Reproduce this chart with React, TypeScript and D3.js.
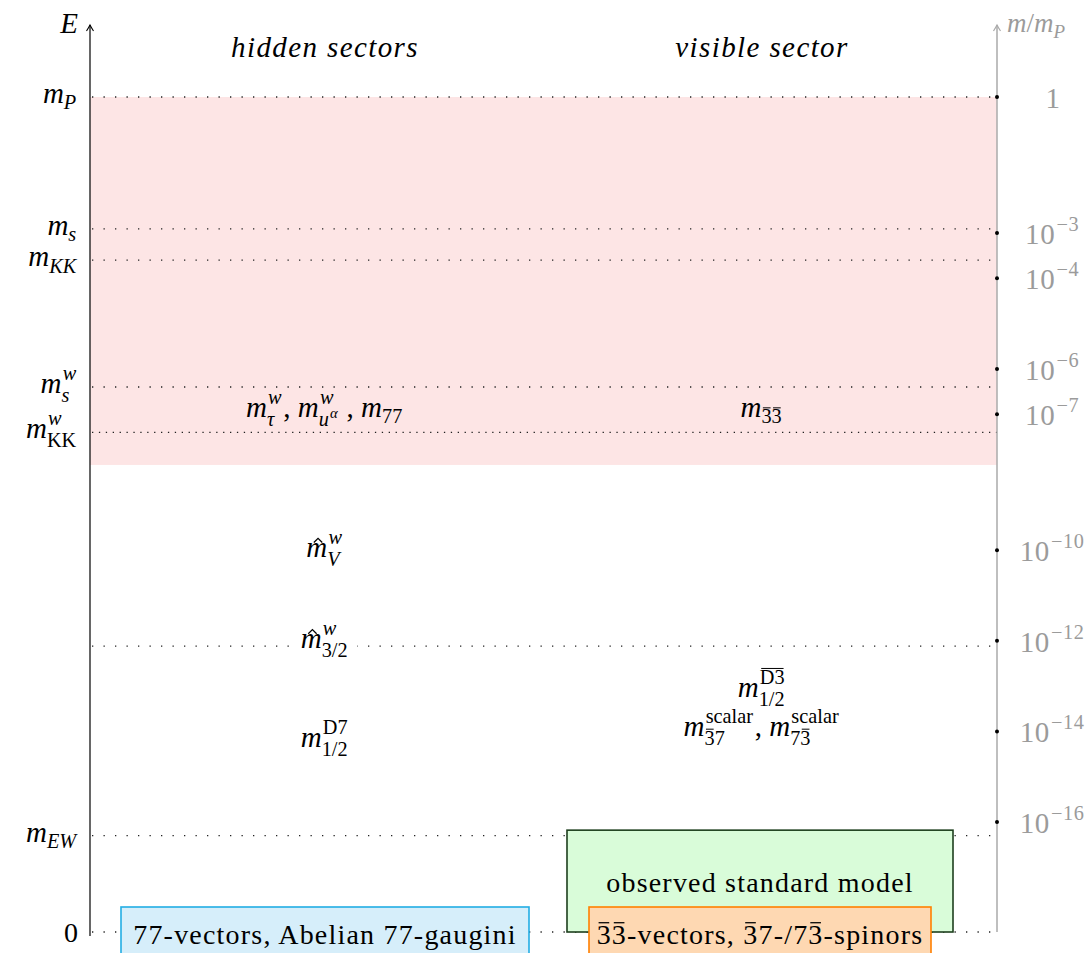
import React, { useEffect, useRef } from "react";
import * as d3 from "d3";

type Piece = { t: string; i?: boolean; bar?: boolean; sup?: string };
type Atom = { b: string; i?: boolean; bar?: boolean; hat?: boolean; sup?: Piece[]; sub?: Piece[] };

const W = 1091;
const H = 953;

// ratio axis (right): exponents of m/m_P with a tick
const ratioExponents = [0, -3, -4, -6, -7, -10, -12, -14, -16];

// energy levels (left axis), in decades below m_P
const levelExponents = [0, -2.91, -3.6, -6.4, -7.4, -16.3];
const levelLabels: Atom[][] = [
	[{ b: "m", sub: [{ t: "P", i: true }] }],
	[{ b: "m", sub: [{ t: "s", i: true }] }],
	[{ b: "m", sub: [{ t: "KK", i: true }] }],
	[{ b: "m", sup: [{ t: "w", i: true }], sub: [{ t: "s", i: true }] }],
	[{ b: "m", sup: [{ t: "w", i: true }], sub: [{ t: "KK" }] }],
	[{ b: "m", sub: [{ t: "EW", i: true }] }],
];
const levelDash = ["1.3 10.2", "1.3 10.2", "1.3 10.2", "1.3 10.2", "1.3 5.6", "1.3 10.2"];

// gravitino level, labelled inside the hidden column
const gravitinoExponent = -12.12;

// the shaded band (string scale region)
const bandExponents = [0, -8.12];

// masses in the hidden sectors column (baseline exponents)
const hiddenExponents = [-7.06, -10.15, -14.35];
const hiddenLabels: Atom[][] = [
	[
		{ b: "m", sup: [{ t: "w", i: true }], sub: [{ t: "τ", i: true }] },
		{ b: ", ", i: false },
		{ b: "m", sup: [{ t: "w", i: true }], sub: [{ t: "u", i: true, sup: "α" }] },
		{ b: " , ", i: false },
		{ b: "m", sub: [{ t: "77" }] },
	],
	[{ b: "m", hat: true, sup: [{ t: "w", i: true }], sub: [{ t: "V", i: true }] }],
	[{ b: "m", sup: [{ t: "D7" }], sub: [{ t: "1/2" }] }],
];

// masses in the visible sector column
const visibleExponents = [-7.06, -13.24, -14.1];
const visibleLabels: Atom[][] = [
	[{ b: "m", sub: [{ t: "3", bar: true }, { t: "3", bar: true }] }],
	[{ b: "m", sup: [{ t: "D3", bar: true }], sub: [{ t: "1/2" }] }],
	[
		{ b: "m", sup: [{ t: "scalar" }], sub: [{ t: "3", bar: true }, { t: "7" }] },
		{ b: ", ", i: false },
		{ b: "m", sup: [{ t: "scalar" }], sub: [{ t: "7" }, { t: "3", bar: true }] },
	],
];

const sectorTitles = ["hidden sectors", "visible sector"];

const hiddenBoxText: Atom[] = [{ b: "77-vectors, Abelian 77-gaugini", i: false }];
const smBoxText: Atom[] = [{ b: "observed standard model", i: false }];
const visibleBoxText: Atom[] = [
	{ b: "3", i: false, bar: true },
	{ b: "3", i: false, bar: true },
	{ b: "-vectors, ", i: false },
	{ b: "3", i: false, bar: true },
	{ b: "7-/7", i: false },
	{ b: "3", i: false, bar: true },
	{ b: "-spinors", i: false },
];

const drawMath = (
	parent: d3.Selection<SVGGElement, unknown, null, undefined>,
	atoms: Atom[],
	x: number,
	y: number,
	anchor: "start" | "middle" | "end",
	fs: number,
	fill: string,
	ls = 0
) => {
	const g = parent.append("g").attr("fill", fill);
	const ss = fs * 0.7;
	let cx = 0;
	const put = (t: string, px: number, py: number, size: number, italic: boolean, bar?: boolean) => {
		const el = g
			.append("text")
			.attr("x", px)
			.attr("y", py)
			.attr("font-size", size)
			.attr("font-style", italic ? "italic" : "normal")
			.attr("letter-spacing", ls)
			.style("white-space", "pre")
			.text(t);
		const w = (el.node() as SVGTextElement).getComputedTextLength();
		if (bar) {
			g.append("line")
				.attr("x1", px + size * 0.07)
				.attr("x2", px + w - size * 0.05 - ls)
				.attr("y1", py - size * 0.76)
				.attr("y2", py - size * 0.76)
				.attr("stroke", fill)
				.attr("stroke-width", Math.max(1, size * 0.045));
		}
		return w;
	};
	const script = (pieces: Piece[], px: number, py: number) => {
		let sx = px;
		pieces.forEach((p) => {
			sx += put(p.t, sx, py, ss, !!p.i, p.bar);
			if (p.sup) sx += put(p.sup, sx + 1, py - ss * 0.4, ss * 0.72, true) + 1;
		});
		return sx - px;
	};
	atoms.forEach((a) => {
		const w = put(a.b, cx, 0, fs, a.i !== false, a.bar);
		if (a.hat) {
			g.append("path")
				.attr("d", `M${cx + w * 0.36},${-fs * 0.5} L${cx + w * 0.56},${-fs * 0.64} L${cx + w * 0.76},${-fs * 0.5}`)
				.attr("fill", "none")
				.attr("stroke", fill)
				.attr("stroke-width", 1.3);
		}
		cx += w;
		const both = a.sup && a.sub;
		const supW = a.sup ? script(a.sup, cx + fs * 0.04, -fs * 0.45) + fs * 0.04 : 0;
		const subW = a.sub ? script(a.sub, cx, both ? fs * 0.3 : fs * 0.22) : 0;
		cx += Math.max(supW, subW);
		if (a.sup || a.sub) cx += fs * 0.06;
	});
	const shift = anchor === "end" ? -cx : anchor === "middle" ? -cx / 2 : 0;
	g.attr("transform", `translate(${x + shift},${y})`);
	return { x0: x + shift, w: cx, g };
};

const App: React.FC = () => {
	const ref = useRef<SVGSVGElement>(null);

	useEffect(() => {
		if (!ref.current) return;
		const svg = d3.select(ref.current);
		svg.selectAll("*").remove();
		const root = svg.append("g") as d3.Selection<SVGGElement, unknown, null, undefined>;

		const leftX = 90;
		const rightX = 997;
		const zeroY = 932;
		const axisTop = 25;
		const hiddenX = 325;
		const visibleX = 762;
		const gray = "#9b9b9b";
		const mfs = 29;

		const y = d3.scaleLog().domain([1, 1e-16]).range([97, 822]);
		const yE = (e: number) => y(Math.pow(10, e));

		// shaded band
		root.append("rect")
			.attr("x", leftX)
			.attr("y", yE(bandExponents[0]))
			.attr("width", rightX - leftX)
			.attr("height", yE(bandExponents[1]) - yE(bandExponents[0]))
			.attr("fill", "#fde5e5");

		const dotted = (yy: number, dash: string) =>
			root.append("line")
				.attr("x1", leftX + 2)
				.attr("x2", rightX)
				.attr("y1", yy)
				.attr("y2", yy)
				.attr("stroke", "#222")
				.attr("stroke-width", 1.3)
				.attr("stroke-dasharray", dash);

		levelExponents.forEach((e, i) => dotted(yE(e), levelDash[i]));
		dotted(yE(gravitinoExponent), "1.3 10.2");
		dotted(zeroY, "1.3 10.2");

		// left axis
		root.append("line")
			.attr("x1", leftX).attr("x2", leftX)
			.attr("y1", zeroY + 4).attr("y2", axisTop)
			.attr("stroke", "#000").attr("stroke-width", 1.2);
		root.append("path")
			.attr("d", `M${leftX - 3.5},${axisTop + 6} Q${leftX - 1},${axisTop + 2} ${leftX},${axisTop} Q${leftX + 1},${axisTop + 2} ${leftX + 3.5},${axisTop + 6}`)
			.attr("fill", "none").attr("stroke", "#000").attr("stroke-width", 1.1);

		// right axis
		root.append("line")
			.attr("x1", rightX).attr("x2", rightX)
			.attr("y1", zeroY).attr("y2", axisTop)
			.attr("stroke", "#aaa").attr("stroke-width", 1.5);
		root.append("path")
			.attr("d", `M${rightX - 3.5},${axisTop + 6} Q${rightX - 1},${axisTop + 2} ${rightX},${axisTop} Q${rightX + 1},${axisTop + 2} ${rightX + 3.5},${axisTop + 6}`)
			.attr("fill", "none").attr("stroke", "#aaa").attr("stroke-width", 1.2);

		// tick dots + ratio labels
		ratioExponents.forEach((e) => {
			root.append("circle").attr("cx", rightX).attr("cy", yE(e)).attr("r", 2).attr("fill", "#000");
			const lab: Atom[] = e === 0 ? [{ b: "1", i: false }] : [{ b: "10", i: false, sup: [{ t: `\u2212${-e}` }] }];
			drawMath(root, lab, 1053, yE(e) + 11, "middle", 29, gray, 0.6);
		});

		// axis titles
		drawMath(root, [{ b: "E" }], 78, 33, "end", mfs, "#000");
		drawMath(root, [{ b: "m" }, { b: "/", i: false }, { b: "m", sub: [{ t: "P", i: true }] }], 1007, 32, "start", 27, gray);

		// level labels
		levelExponents.forEach((e, i) => drawMath(root, levelLabels[i], 78, yE(e) + 6, "end", mfs, "#000"));
		drawMath(root, [{ b: "0", i: false }], 78, zeroY + 10, "end", 28, "#000");

		// sector titles
		sectorTitles.forEach((t, i) => {
			root.append("text")
				.attr("x", i === 0 ? hiddenX : visibleX)
				.attr("y", 57)
				.attr("text-anchor", "middle")
				.attr("font-size", 29)
				.attr("font-style", "italic")
				.attr("letter-spacing", 1.4)
				.text(t);
		});

		// gravitino label with white background
		const gl = root.append("g") as d3.Selection<SVGGElement, unknown, null, undefined>;
		const gm = drawMath(gl, [{ b: "m", hat: true, sup: [{ t: "w", i: true }], sub: [{ t: "3/2" }] }], hiddenX, yE(gravitinoExponent) + 2, "middle", mfs, "#000");
		gl.insert("rect", ":first-child")
			.attr("x", gm.x0 - 8)
			.attr("y", yE(gravitinoExponent) - 26)
			.attr("width", gm.w + 16)
			.attr("height", 50)
			.attr("fill", "#fff");

		hiddenLabels.forEach((l, i) => drawMath(root, l, hiddenX, yE(hiddenExponents[i]), "middle", mfs, "#000"));
		visibleLabels.forEach((l, i) => drawMath(root, l, visibleX, yE(visibleExponents[i]), "middle", mfs, "#000"));

		// boxes
		const box = (x0: number, x1: number, y0: number, y1: number, fill: string, stroke: string) =>
			root.append("rect")
				.attr("x", x0).attr("y", y0)
				.attr("width", x1 - x0).attr("height", y1 - y0)
				.attr("fill", fill).attr("stroke", stroke).attr("stroke-width", 1.6);

		box(567, 953, yE(-16.18), zeroY, "#d9fcd9", "#1d3f1d");
		drawMath(root, smBoxText, 760, 892, "middle", 28, "#000", 1.2);
		box(121, 529, zeroY - 25, zeroY + 26, "#d6eefa", "#22ade4");
		drawMath(root, hiddenBoxText, hiddenX, zeroY + 12, "middle", 28, "#000", 1.2);
		box(589, 931, zeroY - 25, zeroY + 26, "#fed8b2", "#ff8000");
		drawMath(root, visibleBoxText, 760, zeroY + 12, "middle", 28, "#000", 1.2);
	}, []);

	return (
		<svg
			ref={ref}
			width={W}
			height={H}
			style={{ position: "absolute", left: 0, top: 0, background: "#fff" }}
			fontFamily="'Liberation Serif', 'DejaVu Serif', serif"
		/>
	);
};

export default App;
